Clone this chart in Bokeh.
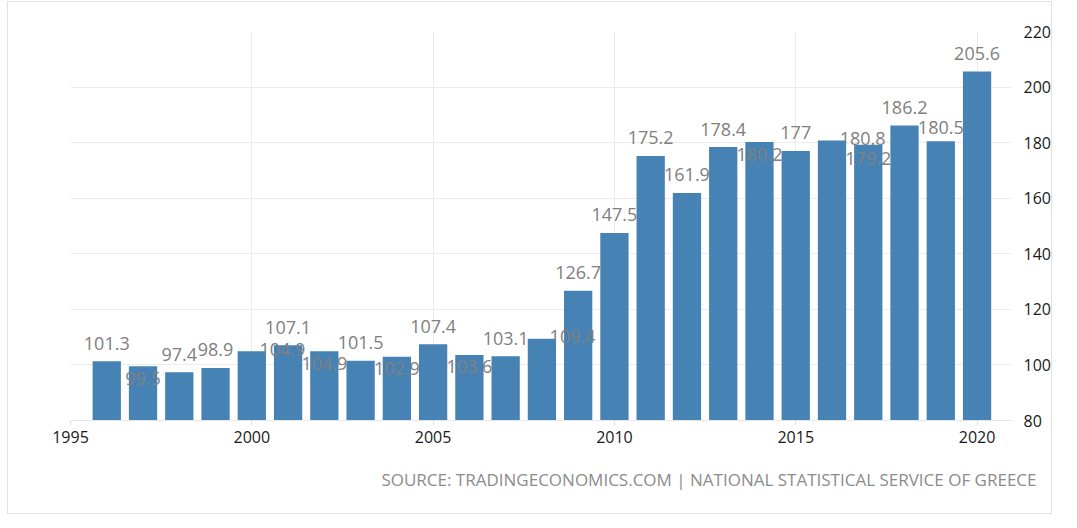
from bokeh.plotting import figure
from bokeh.models import Range1d, FixedTicker, Title, ColumnDataSource
from bokeh.embed import file_html
from bokeh.resources import INLINE
from bokeh.core.properties import value

# ---- data ----
years = list(range(1996, 2021))
values = [101.3, 99.5, 97.4, 98.9, 104.9, 107.1, 104.9, 101.5, 102.9, 107.4,
          103.6, 103.1, 109.4, 126.7, 147.5, 175.2, 161.9, 178.4, 180.2, 177,
          180.8, 179.2, 186.2, 180.5, 205.6]
x_ticks = [1995, 2000, 2005, 2010, 2015, 2020]
y_ticks = [80, 100, 120, 140, 160, 180, 200, 220]
source_text = "SOURCE: TRADINGECONOMICS.COM | NATIONAL STATISTICAL SERVICE OF GREECE"

# ---- layout ----
W, H = 1045, 513
ML, MR, MT, MB = 62, 42, 29, 95
x_start, x_end = 1995, 2020.95
y_start, y_end = 80, 220
FW, FH = W - ML - MR, H - MT - MB
ppx = FW / (x_end - x_start)
ppy = FH / (y_end - y_start)

FONT = "Open Sans"
BAR_COLOR = "#4682B4"

p = figure(width=W, height=H, output_backend="svg", toolbar_location=None,
           x_range=Range1d(x_start, x_end), y_range=Range1d(y_start, y_end),
           y_axis_location="right", min_border_left=ML, min_border_right=MR,
           min_border_top=MT, min_border_bottom=MB)
p.margin = (1, 0, 0, 7)
p.outline_line_color = None
p.background_fill_color = "white"
p.border_fill_color = "white"
p.styles = {"border": "1px solid #e3e3e3"}

p.vbar(x=years, top=values, bottom=y_start, width=0.78, fill_color=BAR_COLOR,
       line_color=None)

# grids
p.xgrid.ticker = FixedTicker(ticks=x_ticks)
p.ygrid.ticker = FixedTicker(ticks=y_ticks)
p.xgrid.grid_line_color = "#ececec"
p.ygrid.grid_line_color = "#ececec"

# axes
xa = p.xaxis[0]
xa.ticker = FixedTicker(ticks=x_ticks)
xa.axis_line_color = "#e6e6e6"
xa.major_tick_line_color = "#e0e0e0"
xa.major_tick_in = 0
xa.major_tick_out = 5
xa.minor_tick_line_color = None
xa.major_label_standoff = 5
xa.major_label_text_font = FONT
xa.major_label_text_font_size = "16px"
xa.major_label_text_color = "#1a1a1a"

ya = p.yaxis[0]
ya.ticker = FixedTicker(ticks=y_ticks)
ya.axis_line_color = None
ya.major_tick_line_color = None
ya.minor_tick_line_color = None
ya.major_label_standoff = 6
ya.major_label_text_font = FONT
ya.major_label_text_font_size = "16px"
ya.major_label_text_color = "#1a1a1a"

# ---- value labels with simple collision avoidance (screen-pixel model) ----
labels = [f"{v:g}" for v in values]


def sx(x):
    return (x - x_start) * ppx


def sy(y):
    return (y_end - y) * ppy


def tw(s):
    return sum(4.8 if c == "." else 9.6 for c in s)


BOX_H, PAD = 20, 1
A_OFF, B_OFF, D_OFF = -18, 12, -2
D_DX = 0.845 * ppx

placed = []
for x, v, s in zip(years, values, labels):
    cx, top, w = sx(x), sy(v), tw(s)
    prev = placed[-1] if placed else None

    def ok(px, py):
        if prev is None:
            return True
        qx, qy, qw = prev
        return not (abs(px - qx) < (w + qw) / 2 + PAD and abs(py - qy) < BOX_H)

    cands = [(cx, top + A_OFF)]
    if prev is not None and prev[1] + BOX_H <= top - 10:
        cands.append((cx, prev[1] + BOX_H))
    cands.append((cx, top + B_OFF))
    cands.append((cx + D_DX, top + D_OFF))
    chosen = None
    for c in cands:
        if ok(*c):
            chosen = c
            break
    if chosen is None:
        chosen = (cx, max(top + B_OFF, prev[1] + BOX_H))
    placed.append((chosen[0], chosen[1], w))

lab_x = [x_start + q[0] / ppx for q in placed]
lab_y = [y_end - q[1] / ppy for q in placed]
src = ColumnDataSource(dict(x=lab_x, y=lab_y, t=labels))
p.text(x="x", y="y", text="t", source=src, text_align="center",
       text_baseline="middle", text_font=value(FONT), text_font_size="18px",
       text_color="#808080")

# source note below the x axis, right aligned
note = Title(text=source_text, align="right", offset=-25, standoff=41,
             text_font=FONT, text_font_size="17px", text_font_style="normal",
             text_color="#8c8c8c")
p.add_layout(note, "below")

open("out.html", "w").write(file_html(p, INLINE))
